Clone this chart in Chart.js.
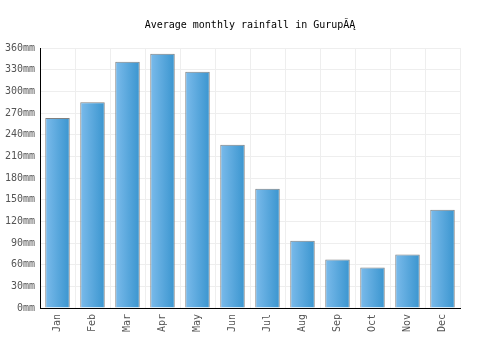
<!DOCTYPE html>
<html><head><meta charset="utf-8">
<script src="https://cdn.jsdelivr.net/npm/chart.js@4"></script>
<style>html,body{margin:0;padding:0;background:#fff}#wrap{width:500px;height:350px}</style>
</head><body><div id="wrap"><canvas id="c" width="500" height="350"></canvas></div>
<script>
const categories = ['Jan','Feb','Mar','Apr','May','Jun','Jul','Aug','Sep','Oct','Nov','Dec'];
const rainfall = [263, 285, 341, 352, 327, 226, 165, 93, 67, 56, 74, 136];
const yTicks = [0,30,60,90,120,150,180,210,240,270,300,330,360];
const titleText = 'Average monthly rainfall in Gurup\u0102\u0104';

function barFill(ctx){
  const c = ctx.chart, xs = c.scales.x;
  if(!xs || !c.chartArea) return '#5aa9de';
  const cx = xs.getPixelForValue(ctx.dataIndex);
  const hw = xs.width/categories.length*0.7/2;
  const g = c.ctx.createLinearGradient(cx-hw,0,cx+hw,0);
  g.addColorStop(0,'#7bbbeb');
  g.addColorStop(1,'#3a95cf');
  return g;
}

new Chart(document.getElementById('c'), {
  type:'bar',
  data:{labels:categories, datasets:[{data:rainfall, backgroundColor:barFill, borderColor:'#808080', borderWidth:1, barPercentage:0.7, categoryPercentage:1}]},
  options:{
    responsive:false, animation:false,
    layout:{padding:0},
    plugins:{legend:{display:false}, tooltip:{enabled:false},
      title:{display:true,text:titleText,color:'#000',font:{family:'DejaVu Sans Mono',size:10,weight:'normal'},padding:{top:19,bottom:17}}},
    scales:{
      x:{grid:{color:'#eeeeee',offset:true,drawTicks:false},border:{color:'#000',width:1},
        ticks:{color:'#555',font:{family:'DejaVu Sans Mono',size:10},maxRotation:90,minRotation:90,padding:6},
        afterFit:s=>{s.height=42;}},
      y:{min:0,max:360,grid:{color:'#eeeeee',drawTicks:false},border:{color:'#000',width:1},
        afterBuildTicks:s=>{s.ticks=yTicks.map(v=>({value:v}));},
        ticks:{color:'#555',font:{family:'DejaVu Sans Mono',size:10},padding:5,callback:v=>v+'mm'},
        afterFit:s=>{s.width=40;}},
      yr:{position:'right',display:true,min:0,max:360,grid:{display:false,drawTicks:false},border:{display:false},
        ticks:{display:false},afterFit:s=>{s.width=40;}}
    }
  }
});
</script></body></html>
